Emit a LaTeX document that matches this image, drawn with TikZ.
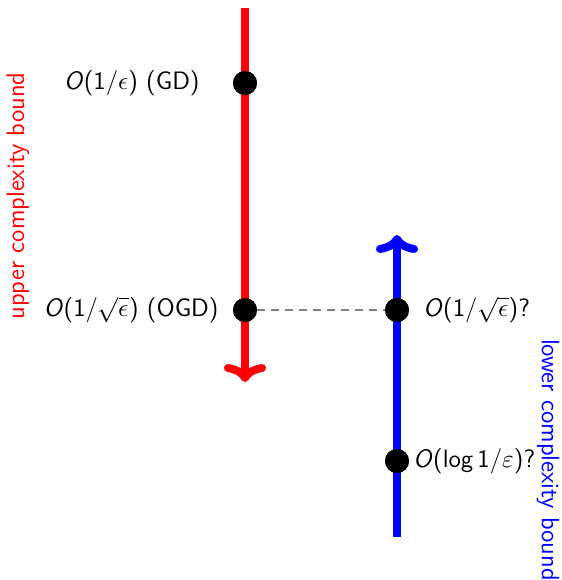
\documentclass[tikz,border=0pt]{standalone}
\usepackage{unicode-math}
\setmathfont{Latin Modern Math}
\usetikzlibrary{arrows.meta}
\begin{document}
\begin{tikzpicture}[x=0.5pt,y=-0.5pt,
  dot/.style={circle,fill=black,inner sep=0pt,minimum size=12pt},
  axis/.style={line width=4pt,-{Computer Modern Rightarrow[length=9pt,width=21pt,line width=4pt]}},
  lab/.style={font=\fontsize{12.6}{15}\selectfont\sffamily,inner sep=0pt}]
\useasboundingbox (0,0) rectangle (562,580);
\node[dot] (gd) at (245,83) {};
\node[dot] (ogd) at (245,310) {};
\node[dot] (lq) at (397,310) {};
\node[dot] (ll) at (397,461) {};
\coordinate (rtop) at (245,8);
\coordinate (rbot) at (245,382);
\coordinate (bbot) at (397,537);
\coordinate (btop) at (397,235);
\draw[axis,red] (rtop) -- (rbot);
\draw[axis,blue] (bbot) -- (btop);
\draw[gray,dashed,line width=0.6pt,dash pattern=on 4pt off 3pt] (ogd) -- (lq);
\node[dot] at (gd) {};
\node[dot] at (ogd) {};
\node[dot] at (lq) {};
\node[dot] at (ll) {};
\node[lab,anchor=east] (t1) at (200,83) {\textit{O}(1/$\epsilon$) (GD)};
\node[lab,anchor=east] (t2) at (219,310) {\textit{O}(1/$\sqrt{\epsilon}$) (OGD)};
\node[lab,anchor=west] (t3) at (423,310) {\textit{O}(1/$\sqrt{\epsilon}$)?};
\node[lab,anchor=west] (t4) at (413,461) {\textit{O}(log\,1/$\varepsilon$)?};
\node[lab,red,rotate=90] (up) at (18,196) {upper complexity bound};
\node[lab,blue,rotate=-90] (lo) at (548,460) {lower complexity bound};
\end{tikzpicture}
\end{document}
